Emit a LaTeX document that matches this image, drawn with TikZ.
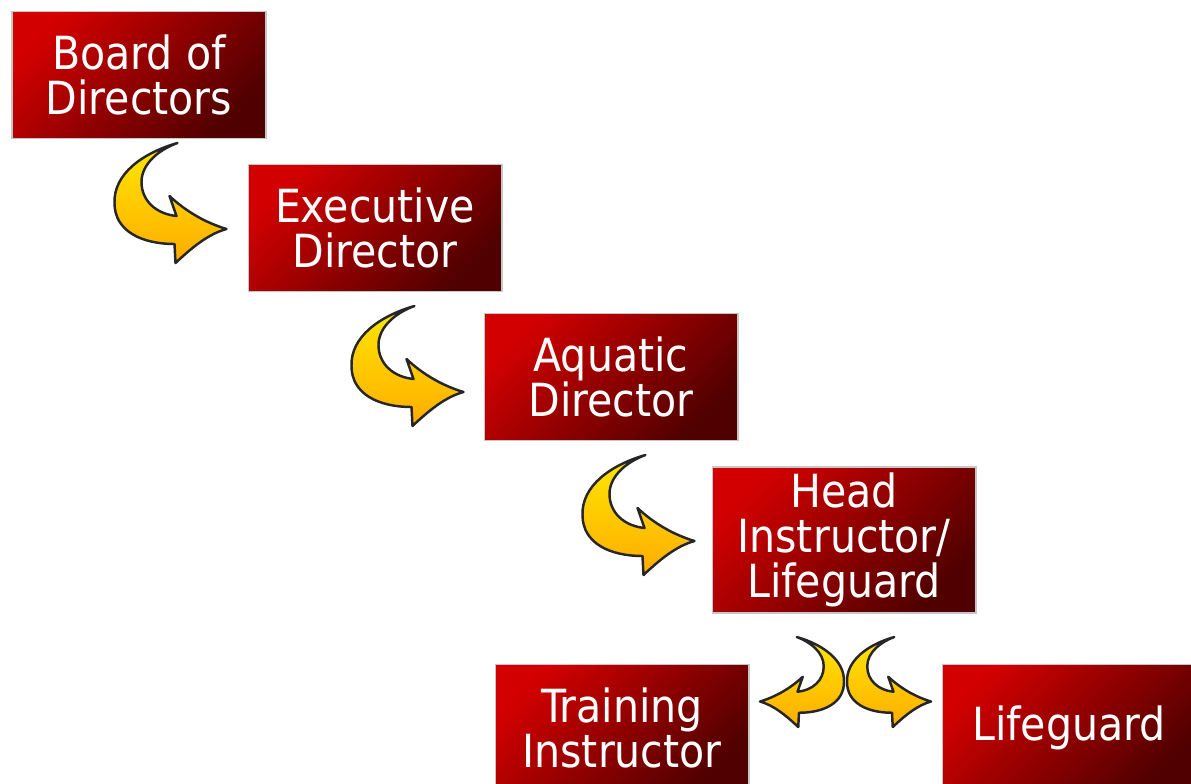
\documentclass[tikz,border=0pt]{standalone}
\usepackage{fontspec}
\setmainfont{DejaVu Sans Condensed}
\usetikzlibrary{calc,positioning}

\definecolor{rankred}{RGB}{210,0,0}
\definecolor{rankdark}{RGB}{80,0,0}
\definecolor{swooptop}{RGB}{255,232,0}
\definecolor{swoopbot}{RGB}{255,172,0}

\tikzstyle{rank}=[rectangle,minimum width=5.08cm,minimum height=2.54cm,inner sep=0pt,
  draw=gray!45,line width=0.6pt,left color=rankred,right color=rankdark,shading angle=45,
  text=white,font=\fontsize{26}{25.6}\selectfont]
\tikzstyle{swoopbody}=[draw=black!85,line width=1.4pt,line join=round,
  top color=swooptop,bottom color=swoopbot]

% curved block arrow, origin at its point
\tikzset{swoop/.pic={
  \path[swoopbody]
    (-49,-86) .. controls (-84,-76) and (-113,-55) .. (-112,-26)
    .. controls (-112,2) and (-85,15) .. (-52,15)
    -- (-51,34) .. controls (-34,18) and (-18,5) .. (0,0)
    .. controls (-20,-6) and (-40,-17) .. (-57,-33) -- (-50,-13)
    .. controls (-70,-15) and (-85,-28) .. (-85,-47)
    .. controls (-85,-66) and (-66,-80) .. (-49,-86) -- cycle;
}}

\begin{document}
\begin{tikzpicture}[x=0.02cm,y=-0.02cm,every text node part/.style={align=center}]
  \useasboundingbox (0,0) rectangle (1191,784);

  \node[rank] (B) at (139,75)  {Board of\\Directors};
  \node[rank] (E) at (375,228) {Executive\\Director};
  \node[rank] (A) at (611,377) {Aquatic\\Director};
  \node[rank,minimum width=5.28cm,minimum height=2.92cm] (H) at (844,540) {Head\\Instructor/\\Lifeguard};
  \node[rank] (T) at (622,728) {Training\\Instructor};
  \node[rank] (L) at (1069,728) {Lifeguard};

  \pic at ($(E.west)+(-21,1)$)  {swoop};
  \pic at ($(A.west)+(-20,15)$) {swoop};
  \pic at ($(H.west)+(-17,1)$)  {swoop};

  % the split below the head instructor
  \pic[scale=0.75] at ($(H.south)+(87,88)$) {swoop};
  \pic[xscale=-0.75,yscale=0.75] at ($(H.south)+(-84,88)$) {swoop};

\end{tikzpicture}
\end{document}
